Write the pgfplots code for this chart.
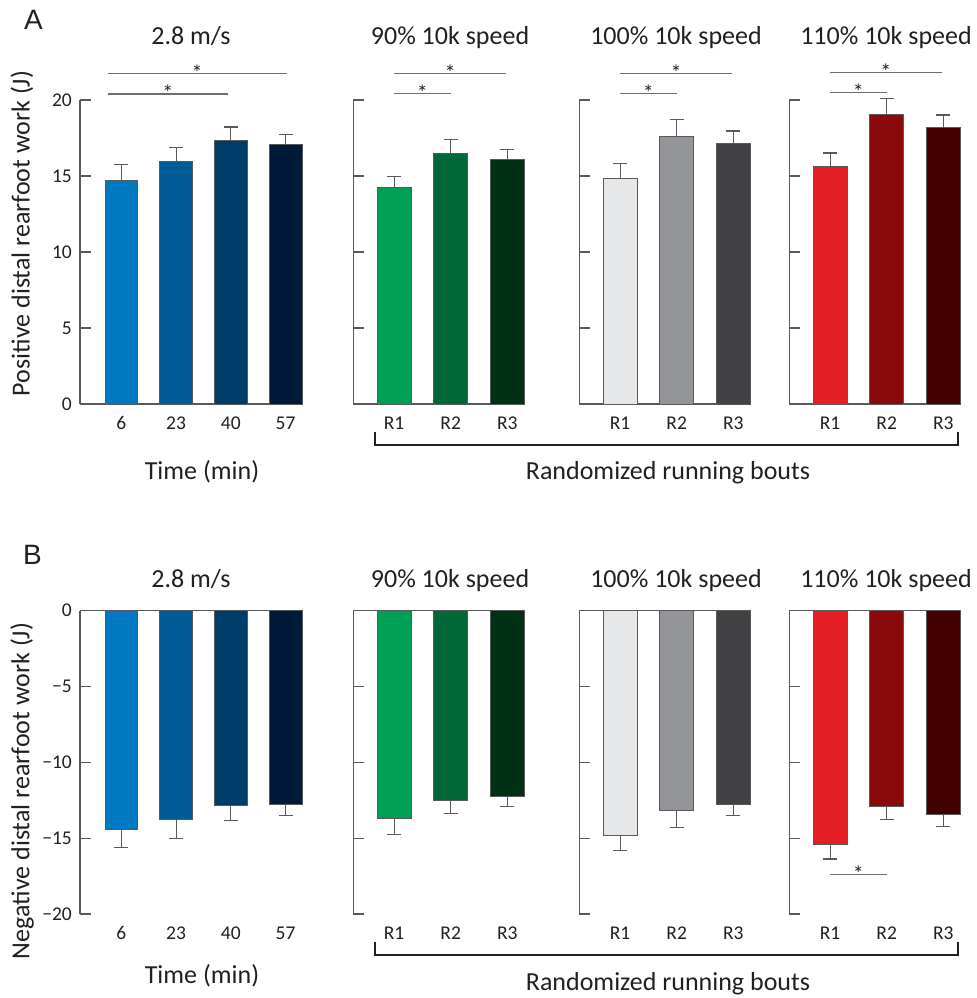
\documentclass[border=0pt]{standalone}
\usepackage{pgfplots}
\pgfplotsset{compat=1.18}
\usepackage{fontspec}
\setmainfont{Carlito}
\newfontfamily\arialf{Liberation Sans}

\definecolor{blue1}{HTML}{0079C2}
\definecolor{blue2}{HTML}{005C97}
\definecolor{blue3}{HTML}{003C69}
\definecolor{blue4}{HTML}{001B39}
\definecolor{green1}{HTML}{00A054}
\definecolor{green2}{HTML}{006837}
\definecolor{green3}{HTML}{003114}
\definecolor{gray1}{HTML}{E6E7E8}
\definecolor{gray2}{HTML}{939598}
\definecolor{gray3}{HTML}{414042}
\definecolor{red1}{HTML}{E31E25}
\definecolor{red2}{HTML}{8A0A0B}
\definecolor{red3}{HTML}{420000}
\definecolor{axgray}{HTML}{58595B}
\definecolor{bargray}{HTML}{58595B}
\definecolor{siggray}{HTML}{6D6E71}
\definecolor{txt}{HTML}{231F20}

\newcommand\lblfont{\fontsize{26bp}{30bp}\selectfont}
\newcommand\tickfont{\fontsize{19.5bp}{22bp}\selectfont}

\pgfplotsset{
  base/.style={scale only axis, clip=false, axis lines=left,
    axis line style={draw=axgray, line width=1.2bp, -},
    tick align=inside, major tick length=10.5bp,
    tick style={draw=axgray, line width=1.2bp},
    major x tick style={draw=none},
    yticklabel style={font=\tickfont, text=txt, anchor=east, inner sep=0pt, xshift=-8bp},
    xticklabel style={font=\tickfont, text=txt, anchor=base, inner sep=0pt, yshift=-26bp},
  },
  top/.style={base, height=304bp, ymin=0, ymax=20, ytick={0,5,10,15,20}, yticklabels={0,5,10,15,20}},
  bot/.style={base, height=303.3bp, ymin=-20, ymax=0, ytick={-20,-15,-10,-5,0},
    yticklabels={−20,−15,−10,−5,0}, x axis line style={draw=none}},
  p1/.style={width=222bp, xmin=-0.755, xmax=3.3, xtick={0,1,2,3}, xticklabels={6,23,40,57}},
  pr/.style={width=171bp, xmin=-0.72, xmax=2.3, xtick={0,1,2}, xticklabels={R1,R2,R3}, yticklabels={}},
  bbar/.style={ybar, bar shift=0pt, bar width=0.6, draw=bargray, line width=0.8bp, fill=#1,
    /pgfplots/error bars/y explicit,
    /pgfplots/error bars/error bar style={draw=axgray, line width=1.1bp},
    /pgfplots/error bars/error mark options={rotate=90, draw=axgray, line width=1.1bp, mark size=7bp}},
  tbar/.style={bbar=#1, /pgfplots/error bars/y dir=plus},
  nbar/.style={bbar=#1, /pgfplots/error bars/y dir=minus},
}
\tikzset{
  toprule/.style={draw=axgray, line width=1.2bp},
  sig/.style={draw=siggray, line width=1.2bp},
  ast/.style={font=\fontsize{22bp}{24bp}\selectfont, text=txt, anchor=base, inner sep=0pt, yshift=-7bp},
  lbl/.style={font=\lblfont, text=txt, inner sep=0pt},
}

\begin{document}
\begin{tikzpicture}
\path[use as bounding box] (0bp,0bp) rectangle (977bp,998bp);

% ---------------- Row A ----------------
\begin{axis}[top, p1, at={(80bp,594bp)}, anchor=south west]
\addplot[tbar=blue1] coordinates {(0,14.74) +- (0,1.00)};
\addplot[tbar=blue2] coordinates {(1,15.94) +- (0,0.95)};
\addplot[tbar=blue3] coordinates {(2,17.32) +- (0,0.90)};
\addplot[tbar=blue4] coordinates {(3,17.06) +- (0,0.68)};
\draw[sig] (axis cs:-0.25,21.76) -- (axis cs:3.02,21.76) node[ast, midway]{*};
\draw[sig] (axis cs:-0.25,20.40) -- (axis cs:1.95,20.40) node[ast, midway]{*};
\end{axis}

\begin{axis}[top, pr, at={(353.3bp,594bp)}, anchor=south west]
\addplot[tbar=green1] coordinates {(0,14.23) +- (0,0.75)};
\addplot[tbar=green2] coordinates {(1,16.51) +- (0,0.92)};
\addplot[tbar=green3] coordinates {(2,16.12) +- (0,0.63)};
\draw[sig] (axis cs:0,21.76) -- (axis cs:1.98,21.76) node[ast, midway]{*};
\draw[sig] (axis cs:0,20.44) -- (axis cs:1,20.44) node[ast, midway]{*};
\end{axis}

\begin{axis}[top, pr, at={(579.3bp,594bp)}, anchor=south west]
\addplot[tbar=gray1] coordinates {(0,14.85) +- (0,0.96)};
\addplot[tbar=gray2] coordinates {(1,17.61) +- (0,1.09)};
\addplot[tbar=gray3] coordinates {(2,17.17) +- (0,0.79)};
\draw[sig] (axis cs:0,21.76) -- (axis cs:1.98,21.76) node[ast, midway]{*};
\draw[sig] (axis cs:0,20.44) -- (axis cs:1,20.44) node[ast, midway]{*};
\end{axis}

\begin{axis}[top, pr, at={(789.3bp,594bp)}, anchor=south west]
\addplot[tbar=red1] coordinates {(0,15.64) +- (0,0.87)};
\addplot[tbar=red2] coordinates {(1,19.06) +- (0,1.01)};
\addplot[tbar=red3] coordinates {(2,18.20) +- (0,0.81)};
\draw[sig] (axis cs:0,21.80) -- (axis cs:1.97,21.80) node[ast, midway]{*};
\draw[sig] (axis cs:0,20.48) -- (axis cs:1,20.48) node[ast, midway]{*};
\end{axis}

% ---------------- Row B ----------------
\begin{axis}[bot, p1, at={(80bp,84bp)}, anchor=south west]
\addplot[nbar=blue1] coordinates {(0,-14.41) +- (0,1.19)};
\addplot[nbar=blue2] coordinates {(1,-13.73) +- (0,1.27)};
\addplot[nbar=blue3] coordinates {(2,-12.85) +- (0,0.97)};
\addplot[nbar=blue4] coordinates {(3,-12.76) +- (0,0.77)};
\draw[toprule] (rel axis cs:0,1) -- (rel axis cs:1,1);
\end{axis}

\begin{axis}[bot, pr, at={(353.3bp,84bp)}, anchor=south west]
\addplot[nbar=green1] coordinates {(0,-13.71) +- (0,1.06)};
\addplot[nbar=green2] coordinates {(1,-12.50) +- (0,0.90)};
\addplot[nbar=green3] coordinates {(2,-12.22) +- (0,0.72)};
\draw[toprule] (rel axis cs:0,1) -- (rel axis cs:1,1);
\end{axis}

\begin{axis}[bot, pr, at={(579.3bp,84bp)}, anchor=south west]
\addplot[nbar=gray1] coordinates {(0,-14.79) +- (0,1.01)};
\addplot[nbar=gray2] coordinates {(1,-13.16) +- (0,1.14)};
\addplot[nbar=gray3] coordinates {(2,-12.76) +- (0,0.73)};
\draw[toprule] (rel axis cs:0,1) -- (rel axis cs:1,1);
\end{axis}

\begin{axis}[bot, pr, at={(789.3bp,84bp)}, anchor=south west]
\addplot[nbar=red1] coordinates {(0,-15.38) +- (0,0.99)};
\addplot[nbar=red2] coordinates {(1,-12.92) +- (0,0.86)};
\addplot[nbar=red3] coordinates {(2,-13.40) +- (0,0.84)};
\draw[toprule] (rel axis cs:0,1) -- (rel axis cs:1,1);
\draw[sig] (axis cs:0,-17.38) -- (axis cs:1,-17.38) node[ast, midway]{*};
\end{axis}

% ---------------- Annotations ----------------
\node[anchor=base west, inner sep=0pt, text=txt, font=\arialf\fontsize{28bp}{32bp}\selectfont] at (24bp,968bp) {A};
\node[anchor=base west, inner sep=0pt, text=txt, font=\arialf\fontsize{28bp}{32bp}\selectfont] at (23bp,433bp) {B};

% titles row A (baseline y=45 px)
\node[lbl, anchor=base] at (191bp,953bp) {2.8 m/s};
\node[lbl, anchor=base] at (450bp,953bp) {90\% 10k speed};
\node[lbl, anchor=base] at (676bp,953bp) {100\% 10k speed};
\node[lbl, anchor=base] at (886bp,953bp) {110\% 10k speed};
% titles row B (baseline y=588 px)
\node[lbl, anchor=base] at (191bp,410bp) {2.8 m/s};
\node[lbl, anchor=base] at (450bp,410bp) {90\% 10k speed};
\node[lbl, anchor=base] at (676bp,410bp) {100\% 10k speed};
\node[lbl, anchor=base] at (886bp,410bp) {110\% 10k speed};

% y labels
\node[lbl, rotate=90] at (22bp,764.5bp) {Positive distal rearfoot work (J)};
\node[lbl, rotate=90] at (22bp,207bp) {Negative distal rearfoot work (J)};

% x labels
\node[lbl, anchor=base] at (202bp,518bp) {Time (min)};
\node[lbl, anchor=base] at (668bp,518bp) {Randomized running bouts};
\node[lbl, anchor=base] at (202bp,15bp) {Time (min)};
\node[lbl, anchor=base] at (668bp,8bp) {Randomized running bouts};

% brackets
\draw[txt, line width=2bp] (375bp,566bp) -- (375bp,553bp) -- (958bp,553bp) -- (958bp,566bp);
\draw[txt, line width=2bp] (375bp,56bp) -- (375bp,43bp) -- (958bp,43bp) -- (958bp,56bp);
\end{tikzpicture}
\end{document}
